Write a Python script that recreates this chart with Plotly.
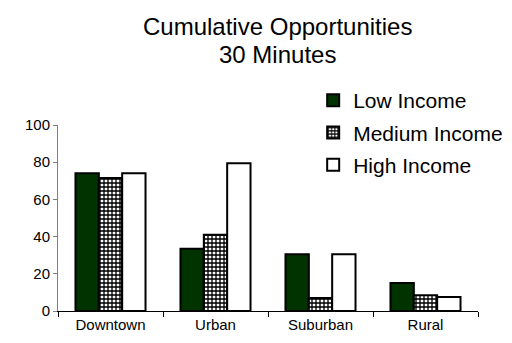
import plotly.graph_objects as go

categories = ["Downtown", "Urban", "Suburban", "Rural"]
low_income = [74, 33.5, 30.5, 15]
medium_income = [71.5, 41, 7, 8.5]
high_income = [74, 79.5, 30.5, 7.5]
series_names = ["Low Income", "Medium Income", "High Income"]
y_ticks = [0, 20, 40, 60, 80, 100]
title_lines = ["Cumulative Opportunities", "30 Minutes"]

FONT = "Arial, Liberation Sans, sans-serif"
W, H = 512, 343
M_L, M_R, M_T, M_B = 50, 39, 117, 40
PLOT_W = W - M_L - M_R
PLOT_H = H - M_T - M_B


def px_(pix):
    return (pix - M_L) / PLOT_W


def py(pix):
    return (H - M_B - pix) / PLOT_H


fig = go.Figure()
fig.add_trace(go.Bar(
    x=categories, y=low_income, name=series_names[0], legendgroup="a",
    marker=dict(color="#003300", line=dict(color="black", width=2)),
))
fig.add_trace(go.Bar(
    x=categories, y=medium_income, name=series_names[1], legendgroup="b",
    marker=dict(color="white", line=dict(color="black", width=2),
                pattern=dict(shape="+", fgcolor="black", bgcolor="white",
                             size=4, solidity=0.55, fillmode="replace")),
))
fig.add_trace(go.Bar(
    x=categories, y=high_income, name=series_names[2], legendgroup="c",
    marker=dict(color="white", line=dict(color="black", width=2)),
))

fig.update_layout(
    width=W, height=H,
    margin=dict(l=M_L, r=M_R, t=M_T, b=M_B),
    paper_bgcolor="white", plot_bgcolor="white",
    barmode="group", bargap=0.333, bargroupgap=0,
    font=dict(family=FONT, color="black", size=15),
    showlegend=True,
    legend=dict(
        xref="paper", yref="paper",
        x=px_(307), y=py(72), xanchor="left", yanchor="top",
        font=dict(size=21, family=FONT), itemwidth=30,
        bgcolor="rgba(0,0,0,0)", traceorder="grouped", tracegroupgap=2,
    ),
    annotations=[
        dict(text=title_lines[0], xref="paper", yref="paper",
             x=px_(271), y=py(18.5), xanchor="center", yanchor="middle",
             showarrow=False, font=dict(size=24, family=FONT)),
        dict(text=title_lines[1], xref="paper", yref="paper",
             x=px_(271), y=py(47), xanchor="center", yanchor="middle",
             showarrow=False, font=dict(size=24, family=FONT)),
    ],
)
fig.update_xaxes(
    showline=True, linecolor="black", linewidth=1,
    ticks="outside", tickson="boundaries", ticklen=5, tickcolor="black",
    showgrid=False, tickfont=dict(size=15), tickangle=0,
)
fig.update_yaxes(
    range=[0, 100], tickvals=y_ticks, showline=True, linecolor="#808080", linewidth=1,
    ticks="outside", ticklen=4, tickcolor="#808080",
    showgrid=False, zeroline=False, tickfont=dict(size=15),
)

fig.write_html("out.html")
